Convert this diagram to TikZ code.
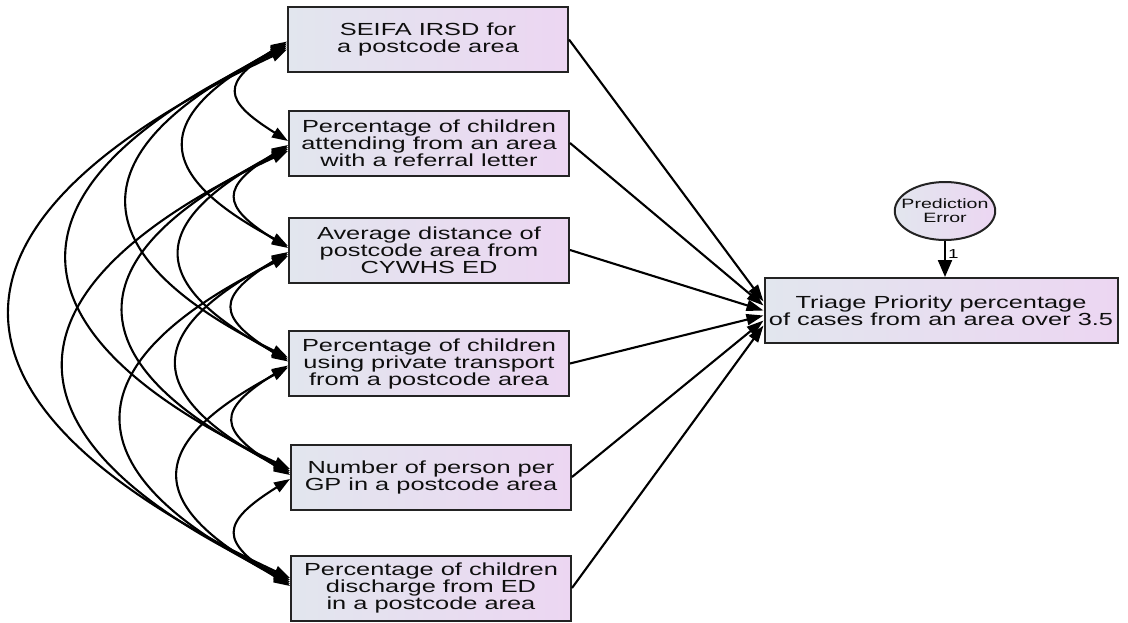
\documentclass[tikz,border=0pt]{standalone}
\usepackage{fontspec}
\setmainfont{Liberation Sans}
\newfontfamily\boxfont[FakeStretch=1.45]{Liberation Sans}
\usetikzlibrary{arrows.meta,shapes.geometric}
\definecolor{boxL}{RGB}{226,230,238}
\definecolor{boxR}{RGB}{236,214,242}
\definecolor{edge}{RGB}{35,35,35}
\definecolor{txt}{RGB}{15,15,15}
\begin{document}
\begin{tikzpicture}[x=1pt,y=1pt,
  var/.style={draw=edge, line width=2pt, left color=boxL, right color=boxR,
    minimum width=280pt, minimum height=65pt, inner sep=0pt, align=center,
    font=\boxfont\fontsize{17.5}{17}\selectfont, text=txt},
  err/.style={ellipse, draw=edge, line width=2pt, left color=boxL, right color=boxR,
    minimum width=96pt, minimum height=58pt, inner xsep=-8pt, inner ysep=0pt, align=center,
    font=\boxfont\fontsize{13.5}{14}\selectfont, text=txt},
  cov/.style={{Triangle[length=16pt,width=11pt]}-{Triangle[length=16pt,width=11pt]}, line width=2.1pt},
  reg/.style={-{Triangle[length=17pt,width=11pt]}, line width=2.1pt}]
\useasboundingbox (0,0) rectangle (1128,-622);
\node[var] (b1) at (428,-39.5) {SEIFA IRSD for\\a postcode area};
\node[var] (b2) at (429,-143) {Percentage of children\\attending from an area\\with a referral letter};
\node[var] (b3) at (429,-250) {Average distance of\\postcode area from\\CYWHS ED};
\node[var] (b4) at (429,-363.5) {Percentage of children\\using private transport\\from a postcode area};
\node[var] (b5) at (431,-477) {Number of person per\\GP in a postcode area};
\node[var] (b6) at (431,-588) {Percentage of children\\discharge from ED\\in a postcode area};
\node[var, minimum width=353pt] (t) at (941,-310.5) {Triage Priority percentage\\of cases from an area over 3.5};
\node[err] (e) at (945,-211) {Prediction\\Error};
\draw[-{Triangle[length=17pt,width=14pt]}, line width=2.2pt] (e.south) -- (e.south |- t.north)
  node[pos=0.35, right, inner sep=2pt, font=\boxfont\fontsize{13}{13}\selectfont] {1};
\draw[reg] (b1.east) -- ([yshift=9pt]t.west);
\draw[reg] (b2.east) -- ([yshift=5pt]t.west);
\draw[reg] (b3.east) -- ([yshift=0pt]t.west);
\draw[reg] (b4.east) -- ([yshift=-5pt]t.west);
\draw[reg] (b5.east) -- ([yshift=-10pt]t.west);
\draw[reg] (b6.east) -- ([yshift=-15pt]t.west);
\foreach \i/\j/\a/\l in {1/2/32/2.0, 2/3/32/2.0, 3/4/32/2.0, 4/5/32/2.0, 5/6/32/2.0,
  1/3/28/1.95, 2/4/28/1.95, 3/5/28/1.95, 4/6/28/1.95,
  1/4/26/1.93, 2/5/26/1.93, 3/6/26/1.93,
  1/5/25/1.96, 2/6/25/1.96, 1/6/25/1.97}
  \draw[cov] ([yshift={-2*(\j-\i)}]b\i.west) to[out=180+\a, in=180-\a, looseness=\l] ([yshift={2*(\j-\i)}]b\j.west);
\end{tikzpicture}
\end{document}
